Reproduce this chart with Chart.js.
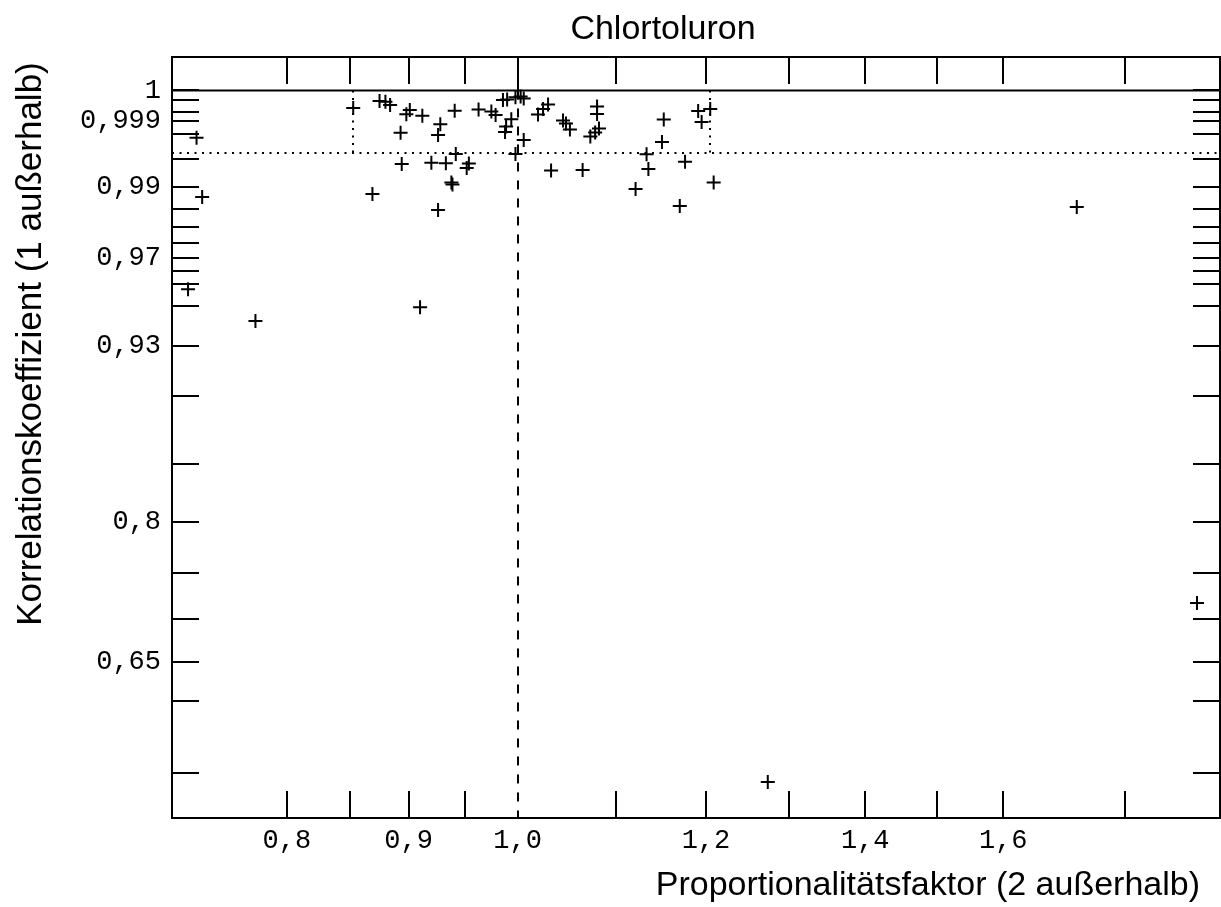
<!DOCTYPE html>
<html>
<head>
<meta charset="utf-8">
<script src="https://cdn.jsdelivr.net/npm/chart.js@4.4.1/dist/chart.umd.min.js"></script>
<style>
  html, body { margin: 0; padding: 0; background: #fff; }
  canvas { display: block; }
</style>
</head>
<body>
<canvas id="chart" width="1221" height="907"></canvas>
<script>
// Messwerte: Proportionalitätsfaktor und Korrelationskoeffizient je Kalibrierung
const ratio = [
  0.733, 0.737, 0.727, 0.776, 0.910, 0.853, 0.875, 0.880, 0.884, 0.901,
  0.898, 0.912, 0.941, 0.928, 0.893, 0.926, 0.942, 0.894, 0.920, 0.933,
  0.952, 0.954, 0.938, 0.939, 0.869, 0.926, 0.963, 0.975, 0.979, 0.986,
  0.990, 0.998, 1.003, 1.006, 0.994, 0.989, 0.988, 1.006, 0.998, 1.020,
  1.025, 1.030, 1.045, 1.048, 1.052, 1.033, 1.065, 1.080, 1.080, 1.082,
  1.073, 1.078, 1.152, 1.150, 1.133, 1.135, 1.121, 1.176, 1.170, 1.191,
  1.195, 1.205, 1.209, 1.718, 1.930, 1.274
];
const corr = [
  0.9976, 0.9878, 0.9576, 0.9430, 0.9496, 0.99967, 0.99988, 0.99986, 0.99977, 0.99959,
  0.99939, 0.99932, 0.99956, 0.99877, 0.99809, 0.99787, 0.99567, 0.99420, 0.99440, 0.99431,
  0.99355, 0.99428, 0.99091, 0.99051, 0.98850, 0.98467, 0.99961, 0.99952, 0.99935, 0.99990,
  0.99991, 0.99995, 0.99996, 0.99993, 0.99911, 0.99861, 0.99815, 0.99737, 0.99567, 0.99938,
  0.99963, 0.99979, 0.99903, 0.99883, 0.99836, 0.99313, 0.99321, 0.99972, 0.99941, 0.99845,
  0.99773, 0.99810, 0.99910, 0.99715, 0.99563, 0.99338, 0.98958, 0.99456, 0.98568, 0.99955,
  0.99893, 0.99963, 0.99091, 0.98543, 0.7182, 0.4871
];

// Achsen
const xTicks = [0.8, 0.85, 0.9, 0.95, 1.0, 1.1, 1.2, 1.3, 1.4, 1.5, 1.6, 1.8];
const xLabeled = [0.8, 0.9, 1.0, 1.2, 1.4, 1.6];
const yTicks = [1, 0.9999, 0.9995, 0.999, 0.998, 0.995, 0.99, 0.985, 0.98, 0.975, 0.97,
  0.965, 0.96, 0.95, 0.93, 0.9, 0.85, 0.8, 0.75, 0.7, 0.65, 0.6, 0.5];
const yLabeled = [1, 0.999, 0.99, 0.97, 0.93, 0.8, 0.65];
const xMin = 0.7158, xMax = 1.9734;
const yMin = 0.43228, yMax = 1.0012;

// Grenzen (Toleranzbereich)
const xLow = 0.853, xHigh = 1.205, rLimit = 0.9958;

// y-Achse: Abstand zu 1 wird als Wurzel aufgetragen
const dev = r => { const d = 1 - r; return Math.sign(d) * Math.sqrt(Math.abs(d)); };

class SqrtDevScale extends Chart.LinearScale {
  getPixelForValue(value) {
    const a = dev(this.min), b = dev(this.max);
    return this.getPixelForDecimal((a - dev(value)) / (a - b));
  }
  getValueForPixel(pixel) {
    const a = dev(this.min), b = dev(this.max);
    const t = a - this.getDecimalForPixel(pixel) * (a - b);
    return 1 - Math.sign(t) * t * t;
  }
}
SqrtDevScale.id = 'sqrtdev';
SqrtDevScale.defaults = {};
Chart.register(SqrtDevScale);

const komma = (v, digits) => (digits ? v.toFixed(digits) : String(v)).replace('.', ',');
const tickFont = { family: 'Liberation Mono', size: 27 };

const marks = {
  id: 'marks',
  beforeDatasetsDraw(chart) {
    const { ctx, chartArea: a, scales: { x, y } } = chart;
    const len = 27;
    const y1 = y.getPixelForValue(1);
    ctx.save();
    ctx.strokeStyle = '#000';
    ctx.lineWidth = 2;
    ctx.beginPath();
    xTicks.forEach(v => {
      const px = Math.round(x.getPixelForValue(v));
      if (v !== 1) {
        ctx.moveTo(px, a.bottom);
        ctx.lineTo(px, a.bottom - len);
      }
      ctx.moveTo(px, a.top);
      ctx.lineTo(px, v === 1 ? y1 : a.top + len);
    });
    yTicks.forEach(v => {
      const py = Math.round(y.getPixelForValue(v));
      ctx.moveTo(a.left, py);
      ctx.lineTo(a.left + len, py);
      ctx.moveTo(a.right, py);
      ctx.lineTo(a.right - len, py);
    });
    ctx.moveTo(a.left, y1);
    ctx.lineTo(a.right, y1);
    ctx.stroke();

    // x = 1 gestrichelt
    const p1 = Math.round(x.getPixelForValue(1));
    ctx.setLineDash([9, 9]);
    ctx.beginPath();
    ctx.moveTo(p1, y1);
    ctx.lineTo(p1, a.bottom);
    ctx.stroke();

    // Toleranzbereich gepunktet
    const yl = Math.round(y.getPixelForValue(rLimit));
    ctx.setLineDash([2, 5.5]);
    ctx.beginPath();
    ctx.moveTo(a.left, yl);
    ctx.lineTo(a.right, yl);
    [xLow, xHigh].forEach(v => {
      const px = Math.round(x.getPixelForValue(v));
      ctx.moveTo(px, y1);
      ctx.lineTo(px, yl);
    });
    ctx.stroke();
    ctx.restore();
  },
  afterDraw(chart) {
    const ctx = chart.ctx;
    ctx.save();
    ctx.fillStyle = '#000';
    ctx.font = '34px "Liberation Sans"';
    ctx.textBaseline = 'middle';
    ctx.textAlign = 'center';
    ctx.fillText('Chlortoluron', 663, 30);
    ctx.textAlign = 'right';
    ctx.fillText('Proportionalitätsfaktor (2 außerhalb)', 1200, 886);
    ctx.font = '35px "Liberation Sans"';
    ctx.translate(31, 344);
    ctx.rotate(-Math.PI / 2);
    ctx.textAlign = 'center';
    ctx.fillText('Korrelationskoeffizient (1 außerhalb)', 0, 0);
    ctx.restore();
  }
};

const noGrid = { drawOnChartArea: false, drawTicks: false };
const frame = { display: true, color: '#000', width: 2 };
const noPadX = (s, h) => { s.height = h; s.paddingLeft = 0; s.paddingRight = 0; };
const noPadY = (s, w) => { s.width = w; s.paddingTop = 0; s.paddingBottom = 0; };

new Chart(document.getElementById('chart'), {
  type: 'scatter',
  data: {
    datasets: [{
      data: ratio.map((v, i) => ({ x: v, y: corr[i] })),
      pointStyle: 'cross',
      pointRadius: 7,
      pointBorderWidth: 2,
      borderColor: '#000',
      backgroundColor: '#000',
      xAxisID: 'x',
      yAxisID: 'y'
    }]
  },
  options: {
    responsive: false,
    animation: false,
    devicePixelRatio: 1,
    layout: { padding: 0, autoPadding: false },
    plugins: { legend: { display: false }, tooltip: { enabled: false } },
    scales: {
      x: {
        type: 'logarithmic', position: 'bottom', min: xMin, max: xMax, bounds: 'data',
        afterBuildTicks: s => { s.ticks = xTicks.map(v => ({ value: v })); },
        afterFit: s => noPadX(s, 89),
        grid: noGrid, border: frame,
        ticks: {
          autoSkip: false, maxRotation: 0, padding: 7, color: '#000', font: tickFont,
          callback: v => xLabeled.includes(v) ? komma(v, 1) : ''
        }
      },
      x2: {
        type: 'logarithmic', position: 'top', min: xMin, max: xMax, bounds: 'data',
        afterBuildTicks: s => { s.ticks = xTicks.map(v => ({ value: v })); },
        afterFit: s => noPadX(s, 57),
        grid: noGrid, border: frame, ticks: { display: false }
      },
      y: {
        type: 'sqrtdev', position: 'left', min: yMin, max: yMax, bounds: 'data',
        afterBuildTicks: s => { s.ticks = yTicks.map(v => ({ value: v })); },
        afterFit: s => noPadY(s, 172),
        grid: noGrid, border: frame,
        ticks: {
          autoSkip: false, padding: 11, color: '#000', font: tickFont,
          callback: v => yLabeled.includes(v) ? komma(v) : ''
        }
      },
      y2: {
        type: 'sqrtdev', position: 'right', min: yMin, max: yMax, bounds: 'data',
        afterBuildTicks: s => { s.ticks = yTicks.map(v => ({ value: v })); },
        afterFit: s => noPadY(s, 1),
        grid: noGrid, border: frame, ticks: { display: false }
      }
    }
  },
  plugins: [marks]
});
</script>
</body>
</html>
